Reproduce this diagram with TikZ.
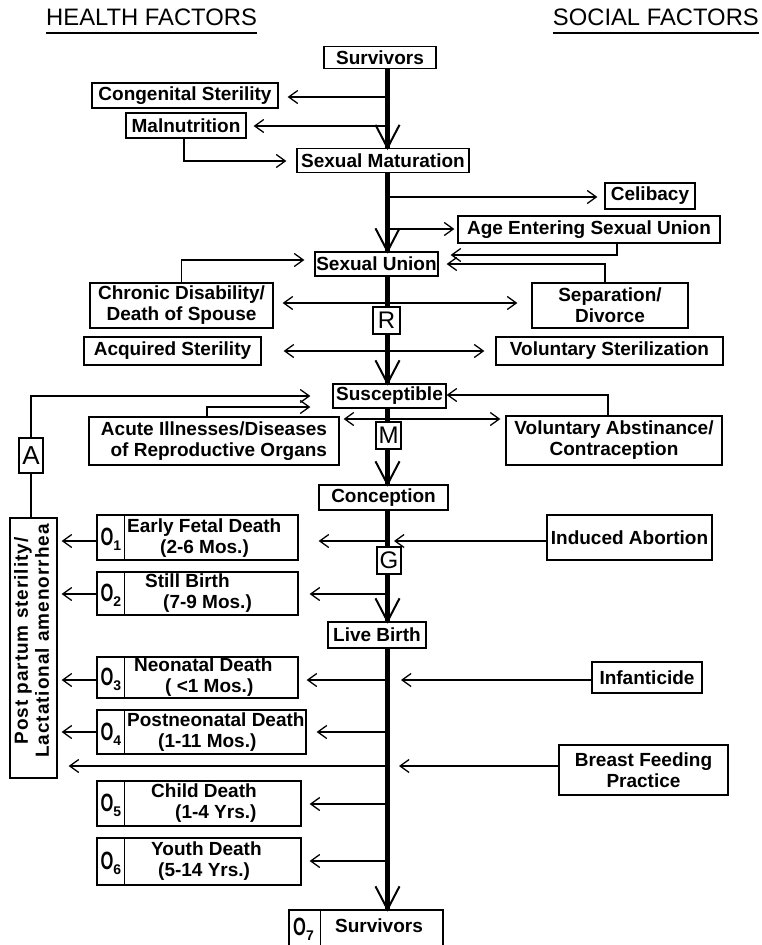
\documentclass[tikz,border=0pt]{standalone}
\usepackage{fontspec}
\usepackage{graphicx}
\setmainfont{Liberation Sans}
\newfontfamily\ppfont[LetterSpace=5]{Liberation Sans}
\usetikzlibrary{arrows.meta,calc}
\newcommand\bxfont{\bfseries\fontsize{19}{21}\selectfont}
\newcommand\Osub[1]{\scalebox{0.66}[1]{\bfseries\fontsize{25}{25}\selectfont O}\raisebox{-5pt}{\bfseries\fontsize{14}{14}\selectfont #1}}
\begin{document}
\begin{tikzpicture}[x=1pt,y=-1pt,
  box/.style={draw, line width=1.3pt, fill=white, inner sep=0pt, font=\bxfont, align=center},
  letterbox/.style={draw, line width=1.3pt, fill=white, inner sep=0pt, font=\fontsize{24}{24}\selectfont},
  otext/.style={inner sep=0pt, font=\bxfont, align=left, anchor=west},
  conn/.style={line width=1.3pt, -{Straight Barb[length=9pt,width=13pt]}},
  conn2/.style={line width=1.3pt, {Straight Barb[length=9pt,width=13pt]}-{Straight Barb[length=9pt,width=13pt]}},
  plain/.style={line width=1.3pt},
  mainline/.style={line width=4.5pt},
  vhead/.style={line width=2pt, line join=miter},
  uline/.style={line width=2.2pt},
  header/.style={inner sep=0pt, font=\fontsize{23.8}{24}\selectfont}]
\useasboundingbox (0,0) rectangle (762,945);
\fill[white] (0,0) rectangle (762,945);

% headers
\node[header, anchor=base west] (hf) at (46,25) {HEALTH FACTORS};
\node[header, anchor=base east] (sf) at (759,25) {SOCIAL FACTORS};
\draw[uline] ($(hf.base west)+(0,8)$) -- ($(hf.base east)+(0,8)$);
\draw[uline] ($(sf.base west)+(0,8)$) -- ($(sf.base east)+(0,8)$);

% main line coordinate and rows
\coordinate (ml) at (387.5,0);
\coordinate (yc1) at (0,97);
\coordinate (ym) at (0,126);
\coordinate (ysm) at (0,161);
\coordinate (yce) at (0,197);
\coordinate (yag) at (0,229);
\coordinate (yag2) at (0,255);
\coordinate (ysp) at (0,264);
\coordinate (ych) at (0,260);
\coordinate (yd1) at (0,303);
\coordinate (yd2) at (0,351);
\coordinate (yA) at (0,396);
\coordinate (yac) at (0,407);
\coordinate (yva) at (0,395);
\coordinate (yd3) at (0,419);
\coordinate (r1) at (0,541);
\coordinate (r2) at (0,594);
\coordinate (r3) at (0,680);
\coordinate (r4) at (0,732);
\coordinate (rbf) at (0,766);
\coordinate (r5) at (0,804);
\coordinate (r6) at (0,861);

% boxes
\node[box, minimum width=112pt, minimum height=22pt] (surv) at (380,57.5) {Survivors};
\node[box, minimum width=186pt, minimum height=25pt] (cong) at (185,95.5) {Congenital Sterility};
\node[box, minimum width=120pt, minimum height=25pt] (maln) at (186,125.5) {Malnutrition};
\node[box, minimum width=172pt, minimum height=24pt] (sexmat) at (383,160.5) {Sexual Maturation};
\node[box, minimum width=90pt, minimum height=26pt] (celib) at (650,196) {Celibacy};
\node[box, minimum width=262pt, minimum height=27pt] (age) at (589,229.5) {Age Entering Sexual Union};
\node[box, minimum width=123pt, minimum height=24pt] (sexun) at (376.5,264) {Sexual Union};
\node[box, minimum width=183pt, minimum height=45pt] (chron) at (181.5,305.5) {Chronic Disability/\\Death of Spouse};
\node[box, minimum width=156pt, minimum height=45pt] (sep) at (610,305.5) {Separation/\\Divorce};
\node[box, minimum width=177pt, minimum height=28pt] (acq) at (172.5,351) {Acquired Sterility};
\node[box, minimum width=227pt, minimum height=28pt] (volst) at (609.5,351) {Voluntary Sterilization};
\node[box, minimum width=113pt, minimum height=24pt] (susc) at (389.5,396) {Susceptible};
\node[box, minimum width=250pt, minimum height=48pt, align=right] (acute) at (214,441) {Acute Illnesses/Diseases\\of Reproductive Organs};
\node[box, minimum width=216pt, minimum height=49pt] (volab) at (614,440.5) {Voluntary Abstinance/\\Contraception};
\node[box, minimum width=129pt, minimum height=25pt] (conc) at (383.5,497.5) {Conception};
\node[box, minimum width=47pt, minimum height=260pt] (pp) at (33.5,648) {};
\node[rotate=90, align=center, inner sep=0pt, font=\ppfont\bfseries\fontsize{19}{21}\selectfont] (ppt) at (31.5,641) {Post partum sterility/\\Lactational amenorrhea};
\node[box, minimum width=165pt, minimum height=45pt] (ind) at (629.5,537.5) {Induced Abortion};
\node[box, minimum width=98pt, minimum height=26pt] (live) at (377,635) {Live Birth};
\node[box, minimum width=110pt, minimum height=31pt] (inf) at (647,677.5) {Infanticide};
\node[box, minimum width=169pt, minimum height=50pt] (bf) at (643.5,770) {Breast Feeding\\Practice};

% O boxes
\node[box, minimum width=201pt, minimum height=45pt] (o1) at (197.5,537.5) {};
\node[box, minimum width=201pt, minimum height=43pt] (o2) at (197.5,593.5) {};
\node[box, minimum width=201pt, minimum height=41pt] (o3) at (197.5,677.5) {};
\node[box, minimum width=209pt, minimum height=44pt] (o4) at (201.5,732) {};
\node[box, minimum width=204pt, minimum height=45pt] (o5) at (199,803.5) {};
\node[box, minimum width=204pt, minimum height=47pt] (o6) at (199,861.5) {};
\foreach \n/\s in {o1/1,o2/2,o3/3,o4/4,o5/5,o6/6}{
  \draw[plain] ($(\n.north west)+(28,0)$) -- ($(\n.south west)+(28,0)$);
  \node[inner sep=0pt, anchor=base west] (\n-lab) at ($(\n.west)+(4,8)$) {\Osub{\s}};
}
\node[otext] (o1t) at (127,538) {Early Fetal Death\\\hspace*{33pt}(2-6 Mos.)};
\node[otext] (o2t) at (145,593.5) {Still Birth\\\hspace*{18pt}(7-9 Mos.)};
\node[otext] (o3t) at (134,677.5) {Neonatal Death\\\hspace*{31pt}( <1 Mos.)};
\node[otext] (o4t) at (127,732) {Postneonatal Death\\\hspace*{31pt}(1-11 Mos.)};
\node[otext] (o5t) at (151,803.5) {Child Death\\\hspace*{24pt}(1-4 Yrs.)};
\node[otext] (o6t) at (151,861.5) {Youth Death\\\hspace*{7pt}(5-14 Yrs.)};

\node[box, minimum width=154pt, minimum height=44pt] (o7) at (366,932) {};
\draw[plain] ($(o7.north west)+(32,0)$) -- ($(o7.south west)+(32,0)$);
\node[inner sep=0pt, anchor=base west] (o7-lab) at (293,935) {\Osub{7}};
\node[inner sep=0pt, font=\bxfont] (o7t) at (379,926) {Survivors};

% main line
\foreach \a/\b in {surv/sexmat, sexmat/sexun, sexun/susc, susc/conc, conc/live, live/o7}{
  \draw[mainline] (ml |- \a.south) -- (ml |- \b.north);
  \draw[vhead] ($(ml |- \b.north)+(-12,-23)$) -- (ml |- \b.north) -- ($(ml |- \b.north)+(12,-23)$);
}

% letter boxes on the main line
\node[letterbox, minimum width=27pt, minimum height=27pt] (R) at (386.5,320.5) {R};
\node[letterbox, minimum width=25pt, minimum height=27pt] (M) at (388.5,435.5) {M};
\node[letterbox, minimum width=24pt, minimum height=27pt] (G) at (389,560.5) {G};
\node[letterbox, minimum width=24pt, minimum height=35pt, font=\fontsize{26}{26}\selectfont] (A) at (31,455.5) {A};

% connectors
\draw[conn] (ml |- yc1) -- ($(cong.east |- yc1)+(9,0)$);
\draw[conn] (ml |- ym) -- ($(maln.east |- ym)+(7,0)$);
\draw[conn] ($(maln.south)+(-2,0)$) |- ($(sexmat.west |- ysm)+(-10,0)$);
\draw[conn] (ml |- yce) -- ($(celib.west |- yce)+(-7,0)$);
\draw[conn] (ml |- yag) -- ($(age.west |- yag)+(-3,0)$);
\draw[conn] ($(age.south)+(28,0)$) |- ($(sexun.east |- yag2)+(12,0)$);
\draw[conn] ($(sep.north)+(-5,0)$) |- ($(sexun.east |- ysp)+(8,0)$);
\draw[conn] (chron.north) |- ($(sexun.west |- ych)+(-10,0)$);
\draw[conn2] ($(chron.east |- yd1)+(9,0)$) -- ($(sep.west |- yd1)+(-14,0)$);
\draw[conn2] ($(acq.east |- yd2)+(22,0)$) -- ($(volst.west |- yd2)+(-11,0)$);
\draw[plain] (A.south) -- (A.south |- pp.north);
\draw[conn] (A.north) |- ($(susc.west |- yA)+(-22,0)$);
\draw[conn] ($(acute.north)+(-7,0)$) |- ($(susc.west |- yac)+(-22,0)$);
\draw[conn] ($(volab.north)+(-6,0)$) |- (susc.east |- yva);
\draw[conn2] ($(acute.east |- yd3)+(4,0)$) -- ($(volab.west |- yd3)+(-5,0)$);
\draw[conn] (ind.west |- r1) -- ($(ml |- r1)+(6.5,0)$);
\draw[conn] (ml |- r1) -- ($(o1.east |- r1)+(20,0)$);
\draw[conn] (o1.west |- r1) -- ($(pp.east |- r1)+(4,0)$);
\draw[conn] (ml |- r2) -- ($(o2.east |- r2)+(11,0)$);
\draw[conn] (o2.west |- r2) -- ($(pp.east |- r2)+(4,0)$);
\draw[conn] (inf.west |- r3) -- ($(ml |- r3)+(13.5,0)$);
\draw[conn] (ml |- r3) -- ($(o3.east |- r3)+(8,0)$);
\draw[conn] (o3.west |- r3) -- ($(pp.east |- r3)+(4,0)$);
\draw[conn] (ml |- r4) -- ($(o4.east |- r4)+(10,0)$);
\draw[conn] (o4.west |- r4) -- ($(pp.east |- r4)+(4,0)$);
\draw[conn] (bf.west |- rbf) -- ($(ml |- rbf)+(11.5,0)$);
\draw[conn] (ml |- rbf) -- ($(pp.east |- rbf)+(11,0)$);
\draw[conn] (ml |- r5) -- ($(o5.east |- r5)+(8,0)$);
\draw[conn] (ml |- r6) -- ($(o6.east |- r6)+(8,0)$);
\end{tikzpicture}
\end{document}
